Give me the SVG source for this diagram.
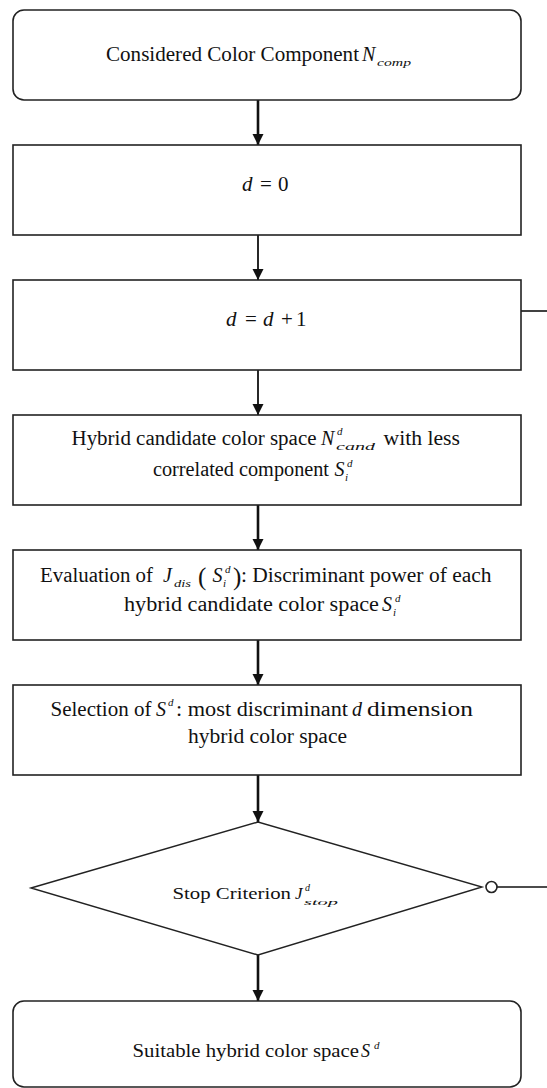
<svg xmlns="http://www.w3.org/2000/svg" width="547" height="1088" viewBox="0 0 547 1088">
<defs>
<marker id="ah" markerUnits="userSpaceOnUse" markerWidth="12" markerHeight="12" refX="11" refY="5.5" orient="auto">
<path d="M0,0 L11,5.5 L0,11 z" fill="#111"/>
</marker>
<style>
.box{fill:#fff;stroke:#222;stroke-width:1.6}
.t{font-family:'Liberation Serif','DejaVu Serif',serif;fill:#111}
.i{font-style:italic}
.c{stroke:#111;fill:none}
.k{stroke-width:2.6}
.n{stroke-width:1.8}
</style>
</defs>
<rect width="547" height="1088" fill="#fff"/>

<g id="connectors">
<line class="c k" x1="258" y1="100" x2="258" y2="145" marker-end="url(#ah)"/>
<line class="c n" x1="258" y1="235" x2="258" y2="280" marker-end="url(#ah)"/>
<line class="c n" x1="258" y1="370" x2="258" y2="415" marker-end="url(#ah)"/>
<line class="c k" x1="258" y1="505" x2="258" y2="550" marker-end="url(#ah)"/>
<line class="c k" x1="258" y1="640" x2="258" y2="685" marker-end="url(#ah)"/>
<line class="c k" x1="258" y1="775" x2="258" y2="822" marker-end="url(#ah)"/>
<line class="c k" x1="258" y1="955" x2="258" y2="1001" marker-end="url(#ah)"/>
<line class="c" stroke-width="1.6" x1="521" y1="311" x2="547" y2="311"/>
<line class="c" stroke-width="1.6" x1="497" y1="887" x2="547" y2="887"/>
<circle cx="491.5" cy="887" r="5.5" fill="#fff" stroke="#222" stroke-width="1.6"/>
</g>

<g id="start" font-family="Liberation Serif, DejaVu Serif, serif">
<rect class="box" x="13" y="10" width="508" height="90" rx="11"/>
<text class="t" x="106" y="61" font-size="20" textLength="253" lengthAdjust="spacingAndGlyphs">Considered Color Component</text>
<text class="t i" x="362" y="61" font-size="20">N</text>
<text class="t i" x="377" y="66" font-size="11" textLength="34" lengthAdjust="spacingAndGlyphs">comp</text>
</g>

<g id="init" font-family="Liberation Serif, DejaVu Serif, serif">
<rect class="box" x="13" y="145" width="508" height="90"/>
<text class="t i" x="242" y="191" font-size="21">d</text>
<text class="t" x="260" y="191" font-size="21">=</text>
<text class="t" x="278" y="191" font-size="21">0</text>
</g>

<g id="increment" font-family="Liberation Serif, DejaVu Serif, serif">
<rect class="box" x="13" y="280" width="508" height="90"/>
<text class="t i" x="226" y="326" font-size="21">d</text>
<text class="t" x="245" y="326" font-size="21">=</text>
<text class="t i" x="263" y="326" font-size="21">d</text>
<text class="t" x="281" y="326" font-size="21">+</text>
<text class="t" x="296" y="326" font-size="21">1</text>
</g>

<g id="candidate" font-family="Liberation Serif, DejaVu Serif, serif">
<rect class="box" x="13" y="415" width="508" height="90"/>
<text class="t" x="71.5" y="445" font-size="20" textLength="245" lengthAdjust="spacingAndGlyphs">Hybrid candidate color space</text>
<text class="t i" x="321" y="445" font-size="20">N</text>
<text class="t i" x="337" y="435" font-size="11">d</text>
<text class="t i" x="336" y="450" font-size="11" textLength="39" lengthAdjust="spacingAndGlyphs">cand</text>
<text class="t" x="383.5" y="445" font-size="20" textLength="76.5" lengthAdjust="spacingAndGlyphs">with less</text>
<text class="t" x="153" y="476" font-size="20" textLength="176" lengthAdjust="spacingAndGlyphs">correlated component</text>
<text class="t i" x="334.5" y="476" font-size="20">S</text>
<text class="t i" x="347" y="467" font-size="11">d</text>
<text class="t i" x="345" y="481" font-size="11">i</text>
</g>

<g id="evaluation" font-family="Liberation Serif, DejaVu Serif, serif">
<rect class="box" x="13" y="550" width="508" height="90"/>
<text class="t" x="40" y="582" font-size="20" textLength="113" lengthAdjust="spacingAndGlyphs">Evaluation of</text>
<text class="t i" x="163" y="582" font-size="20">J</text>
<text class="t i" x="174" y="587" font-size="10" textLength="17" lengthAdjust="spacingAndGlyphs">dis</text>
<text class="t" x="198" y="585" font-size="25">(</text>
<text class="t i" x="212.5" y="582" font-size="20">S</text>
<text class="t i" x="225" y="573" font-size="11">d</text>
<text class="t i" x="223" y="587" font-size="11">i</text>
<text class="t" x="233" y="585" font-size="25">)</text>
<text class="t" x="241" y="582" font-size="20" textLength="250.5" lengthAdjust="spacingAndGlyphs">: Discriminant power of each</text>
<text class="t" x="124" y="611" font-size="20" textLength="255" lengthAdjust="spacingAndGlyphs">hybrid candidate color space</text>
<text class="t i" x="382" y="611" font-size="20">S</text>
<text class="t i" x="395" y="602" font-size="11">d</text>
<text class="t i" x="393" y="616" font-size="11">i</text>
</g>

<g id="selection" font-family="Liberation Serif, DejaVu Serif, serif">
<rect class="box" x="13" y="685" width="508" height="90"/>
<text class="t" x="50.5" y="716" font-size="20" textLength="101" lengthAdjust="spacingAndGlyphs">Selection of</text>
<text class="t i" x="156" y="716" font-size="20">S</text>
<text class="t i" x="168" y="706" font-size="11">d</text>
<text class="t" x="176" y="716" font-size="20" textLength="172" lengthAdjust="spacingAndGlyphs">: most discriminant</text>
<text class="t i" x="352" y="716" font-size="20">d</text>
<text class="t" x="367" y="716" font-size="20" textLength="106" lengthAdjust="spacingAndGlyphs">dimension</text>
<text class="t" x="188" y="743" font-size="20" textLength="159" lengthAdjust="spacingAndGlyphs">hybrid color space</text>
</g>

<g id="stop" font-family="Liberation Serif, DejaVu Serif, serif">
<polygon points="31,888 258,822 482,887 258,955" fill="#fff" stroke="#222" stroke-width="1.4"/>
<text class="t" x="172.5" y="899" font-size="17" textLength="118.5" lengthAdjust="spacingAndGlyphs">Stop Criterion</text>
<text class="t i" x="295" y="899" font-size="17">J</text>
<text class="t i" x="305" y="891" font-size="10">d</text>
<text class="t i" x="304" y="905" font-size="9" textLength="34" lengthAdjust="spacingAndGlyphs">stop</text>
</g>

<g id="result" font-family="Liberation Serif, DejaVu Serif, serif">
<rect class="box" x="13" y="1001" width="508" height="86" rx="11"/>
<text class="t" x="132.5" y="1057" font-size="18" textLength="226.5" lengthAdjust="spacingAndGlyphs">Suitable hybrid color space</text>
<text class="t i" x="361" y="1057" font-size="18">S</text>
<text class="t i" x="374" y="1049" font-size="11">d</text>
</g>
</svg>
